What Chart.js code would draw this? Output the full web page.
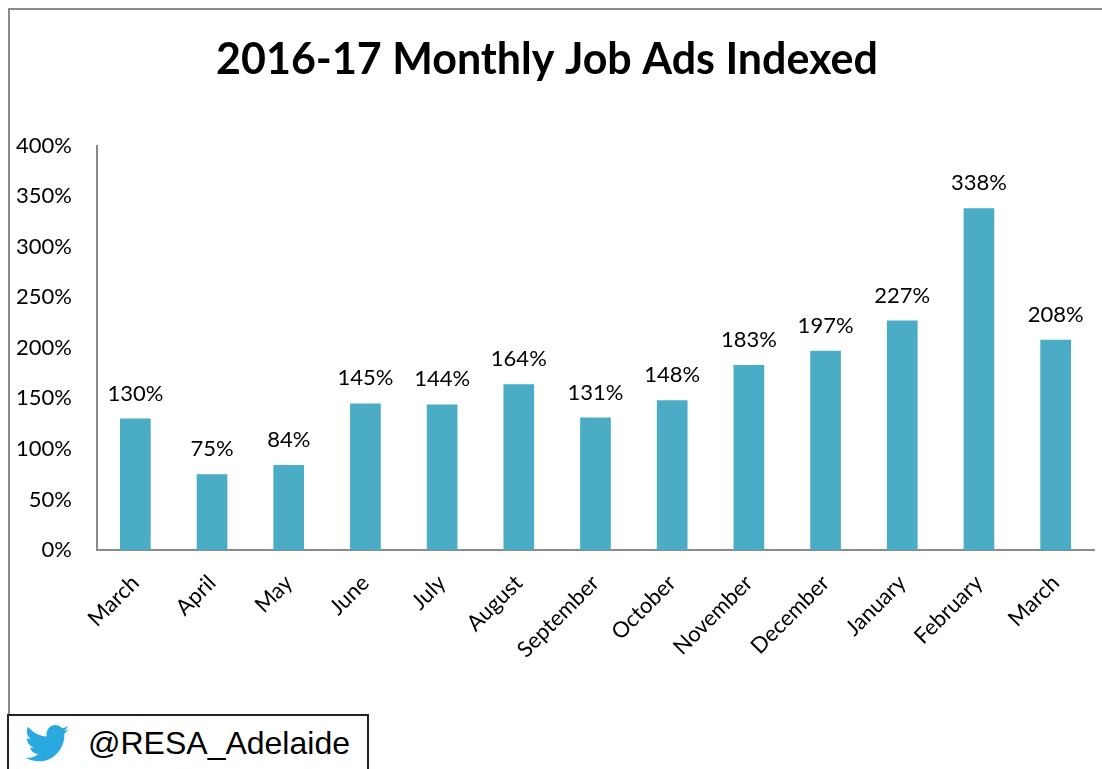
<!DOCTYPE html>
<html>
<head>
<meta charset="utf-8">
<title>2016-17 Monthly Job Ads Indexed</title>
<script src="https://cdn.jsdelivr.net/npm/chart.js@4"></script>
<style>
html, body { margin: 0; padding: 0; background: #fff; overflow: hidden; }
#wrap { position: relative; width: 1102px; height: 769px; }
#frame { position: absolute; left: 8px; top: 8px; width: 1094px; height: 706px; box-sizing: border-box; border-left: 2px solid #8a8a8a; border-top: 2px solid #8a8a8a; }
#handle { position: absolute; left: 7px; top: 714px; width: 362px; height: 60px; box-sizing: border-box; border: 2px solid #222; background: #fff; }
#handle span { position: absolute; left: 79px; top: 9px; font: 32px "Liberation Sans", sans-serif; color: #000; white-space: nowrap; }
#handle svg { position: absolute; left: 16px; top: 9px; width: 44px; height: 38px; }
canvas { position: absolute; left: 0; top: 0; }
</style>
</head>
<body>
<div id="wrap">
  <div id="frame"></div>
  <canvas id="chart" width="1102" height="769"></canvas>
  <div id="handle">
    <svg viewBox="0 0 24 20" preserveAspectRatio="none"><path fill="#2aa9e0" d="M24 2.4c-.9.4-1.8.7-2.8.8 1-.6 1.8-1.6 2.2-2.7-1 .6-2 1-3.100 1.200C19.300.7 18 0 16.600 0c-2.700 0-4.900 2.200-4.900 4.900 0 .4 0 .8.1 1.100C7.700 5.800 4.100 3.900 1.700.9c-.4.700-.7 1.600-.7 2.500 0 1.700.9 3.200 2.200 4.100-.8 0-1.600-.2-2.200-.6v.1c0 2.400 1.700 4.400 3.900 4.800-.4.100-.8.200-1.300.2-.3 0-.6 0-.9-.1.600 2 2.400 3.400 4.600 3.400-1.700 1.300-3.800 2.100-6.100 2.100-.4 0-.8 0-1.200-.1C2.200 18.300 4.800 19.100 7.500 19.100c9.100 0 14-7.500 14-14v-.6c1-.7 1.800-1.600 2.500-2.100z"/></svg>
    <span>@RESA_Adelaide</span>
  </div>
</div>
<script>
const titleText = '2016-17 Monthly Job Ads Indexed';
const months = ['March', 'April', 'May', 'June', 'July', 'August', 'September', 'October', 'November', 'December', 'January', 'February', 'March'];
const indexed = [130, 75, 84, 145, 144, 164, 131, 148, 183, 197, 227, 338, 208];
const yTicks = [0, 50, 100, 150, 200, 250, 300, 350, 400];

const labelFont = '22px Lato, sans-serif';

// value labels above the bars
const barLabels = {
    id: 'barLabels',
    afterDatasetsDraw(chart) {
        const ctx = chart.ctx;
        const bars = chart.getDatasetMeta(0).data;
        ctx.save();
        ctx.font = labelFont;
        ctx.fillStyle = '#000';
        ctx.textAlign = 'center';
        ctx.textBaseline = 'alphabetic';
        bars.forEach((bar, i) => {
            ctx.fillText(indexed[i] + '%', bar.x, bar.y - 18);
        });
        ctx.restore();
    }
};

new Chart(document.getElementById('chart'), {
    type: 'bar',
    data: {
        labels: months,
        datasets: [{
            data: indexed,
            backgroundColor: '#4bacc6',
            categoryPercentage: 1,
            barPercentage: 0.4
        }]
    },
    options: {
        responsive: false,
        animation: false,
        layout: { padding: { left: 0, right: 8, top: 0, bottom: 0 } },
        plugins: {
            legend: { display: false },
            tooltip: { enabled: false },
            title: {
                display: true,
                text: titleText,
                color: '#000',
                font: { family: 'Lato, sans-serif', size: 43, weight: 'bold' },
                padding: { top: 34, bottom: 60 }
            }
        },
        scales: {
            x: {
                grid: { display: false, drawTicks: false },
                border: { color: '#8a8a8a', width: 2 },
                ticks: {
                    color: '#000',
                    font: { family: 'Lato, sans-serif', size: 22 },
                    minRotation: 45,
                    maxRotation: 45,
                    autoSkip: false,
                    padding: 20
                },
                afterFit(scale) { scale.height = 219; }
            },
            y: {
                min: 0,
                max: 400,
                grid: { display: false, drawTicks: false },
                border: { color: '#8a8a8a', width: 2 },
                afterBuildTicks(scale) { scale.ticks = yTicks.map(v => ({ value: v })); },
                ticks: {
                    color: '#000',
                    font: { family: 'Lato, sans-serif', size: 22 },
                    padding: 25,
                    callback: v => v + '%'
                },
                afterFit(scale) { scale.width = 97; }
            }
        }
    },
    plugins: [barLabels]
});
</script>
</body>
</html>
